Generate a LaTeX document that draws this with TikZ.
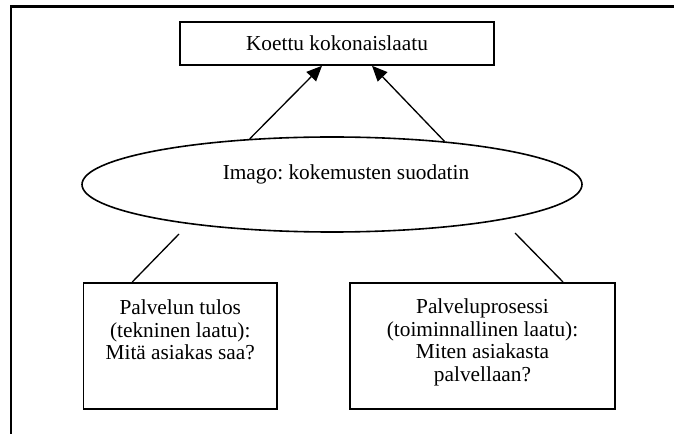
\documentclass[tikz,border=0pt]{standalone}
\usepackage{fontspec}
\setmainfont{Liberation Serif}
\usetikzlibrary{shapes.geometric,arrows.meta}
\newdimen\pxu \pxu=0.75pt
\frenchspacing
\tikzset{
  boxstyle/.style={draw, line width=1.2pt, rectangle, inner sep=0pt},
  ellstyle/.style={draw, line width=1.2pt, ellipse, inner sep=0pt},
  conn/.style={line width=1pt},
  arr/.style={line width=1pt, -{Triangle[length=11.5pt,width=10pt]}},
  framestyle/.style={line width=1.8pt},
  txt/.style={font=\fontsize{16pt}{17pt}\selectfont}
}
\begin{document}
\begin{tikzpicture}[x=0.75pt,y=-0.75pt]
\useasboundingbox (0,0) rectangle (674,434);
\draw[framestyle] (11,440) -- (11,6.5) -- (680,6.5);
\node[boxstyle, txt, minimum width=314\pxu, minimum height=43\pxu] (top) at (337,43.5) {Koettu kokonaislaatu};
\node[ellstyle, minimum width=500\pxu, minimum height=95\pxu] (e) at (332,184.5) {};
\node[txt, anchor=base, inner sep=0pt] (etxt) at (346,180) {Imago: kokemusten suodatin};
\node[boxstyle, txt, anchor=north] (lbox) at (180.25,282) {\parbox[c][126\pxu][t]{193.5\pxu}{\centering\vskip 17\pxu Palvelun tulos\\(tekninen laatu):\\Mitä asiakas saa?}};
\node[boxstyle, txt, anchor=north] (rbox) at (482.5,282) {\parbox[c][126\pxu][t]{265\pxu}{\centering\vskip 16\pxu Palveluprosessi\\(toiminnallinen laatu):\\Miten asiakasta\\palvellaan?}};
\draw[arr] (e.151.2) -- ([xshift=-15\pxu]top.south);
\draw[arr] (e.21) -- ([xshift=35\pxu]top.south);
\coordinate (lend) at (179,234);
\coordinate (rend) at (515,233);
\draw[conn] ([xshift=-48\pxu]lbox.north) -- (lend);
\draw[conn] ([xshift=80.5\pxu]rbox.north) -- (rend);
\end{tikzpicture}
\end{document}
